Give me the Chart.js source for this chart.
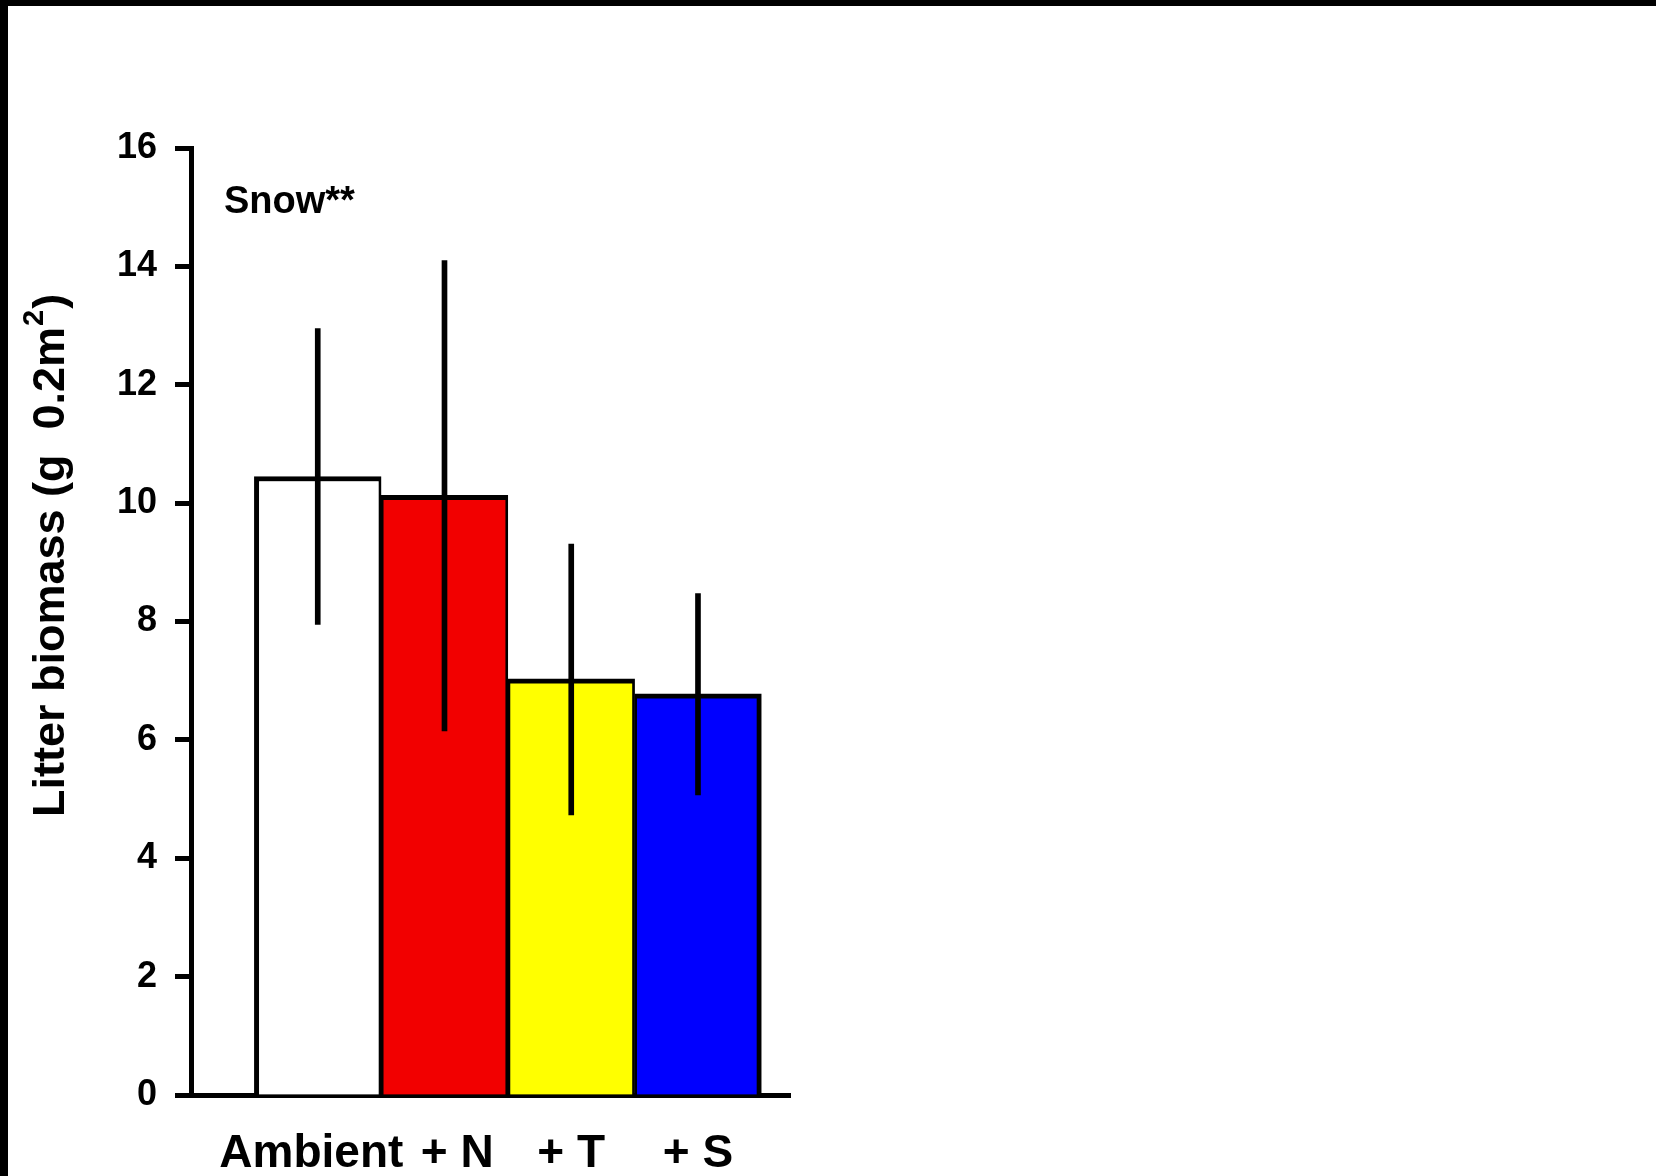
<!DOCTYPE html>
<html>
<head>
<meta charset="utf-8">
<script src="https://cdn.jsdelivr.net/npm/chart.js@4.4.1/dist/chart.umd.min.js"></script>
<style>
  html, body { margin: 0; padding: 0; background: #000; }
  #wrap { position: absolute; left: 8px; top: 6px; width: 1648px; height: 1170px; background: #fff; }
  canvas { display: block; }
</style>
</head>
<body>
<div id="wrap"><canvas id="litterChart" width="1648" height="1170"></canvas></div>
<script>
// values
const categories = ['Ambient', '+ N', '+ T', '+ S'];
const xLabels = ['Ambient ', '  + N', '+ T', '+ S'];
const litterMean = [10.45, 10.13, 7.03, 6.78];
const errLow = [7.95, 6.15, 4.73, 5.07];
const errHigh = [12.95, 14.10, 9.31, 8.47];
const barColors = ['#ffffff', '#f20000', '#ffff00', '#0000ff'];
const yTickValues = [0, 2, 4, 6, 8, 10, 12, 14, 16];
const annotation = 'Snow**';
const yTitle = ['Litter biomass (g  0.2m', '2', ')'];

const positions = categories.map((c, i) => i + 1);
const FONT = '"Liberation Sans", Arial, sans-serif';

// Draw the y-axis title (with superscript) and the annotation
const textPlugin = {
    id: 'textPlugin',
    afterDraw(chart) {
        const ctx = chart.ctx;
        ctx.save();
        ctx.fillStyle = '#000';
        ctx.textBaseline = 'alphabetic';
        ctx.textAlign = 'left';

        // annotation in the upper left
        ctx.font = 'bold 38px ' + FONT;
        ctx.fillText(annotation, 216, 207);

        // rotated y title
        ctx.translate(56, 811);
        ctx.rotate(-Math.PI / 2);
        ctx.font = 'bold 45px ' + FONT;
        ctx.fillText(yTitle[0], 0, 0);
        let w = ctx.measureText(yTitle[0]).width;
        ctx.font = 'bold 29px ' + FONT;
        ctx.fillText(yTitle[1], w + 1, -21);
        w += ctx.measureText(yTitle[1]).width + 2;
        ctx.font = 'bold 45px ' + FONT;
        ctx.fillText(yTitle[2], w, 0);
        ctx.restore();
    }
};

const ctx1 = document.getElementById('litterChart').getContext('2d');
const litterChart = new Chart(ctx1, {
    type: 'bar',
    data: {
        datasets: [
            {
                // error bars as thin floating bars
                label: 'SE',
                data: positions.map((x, i) => ({ x: x, y: [errLow[i], errHigh[i]] })),
                backgroundColor: '#000',
                borderWidth: 0,
                barThickness: 5,
                grouped: false,
                order: 0
            },
            {
                label: 'Litter biomass',
                data: positions.map((x, i) => ({ x: x, y: litterMean[i] })),
                backgroundColor: barColors,
                borderColor: '#000',
                borderWidth: ctx => ({
                    top: 5,
                    left: ctx.dataIndex === 0 ? 5 : 2.75,
                    right: ctx.dataIndex === categories.length - 1 ? 5 : 2.75,
                    bottom: 0
                }),
                barPercentage: 1,
                categoryPercentage: 1,
                grouped: false,
                order: 1
            }
        ]
    },
    options: {
        responsive: false,
        animation: false,
        layout: {
            padding: { top: 142, right: 866, bottom: 0, left: 0 }
        },
        scales: {
            x: {
                type: 'linear',
                offset: false,
                min: 0,
                max: 4.726,
                afterBuildTicks: scale => {
                    scale.ticks = positions.map(v => ({ value: v }));
                },
                afterFit: scale => { scale.height = 81; },
                grid: { display: false, drawTicks: false },
                border: { display: true, color: '#000', width: 5 },
                ticks: {
                    autoSkip: false,
                    maxRotation: 0,
                    minRotation: 0,
                    padding: 32,
                    color: '#000',
                    font: { family: FONT, size: 46, weight: 'bold' },
                    callback: (value, index) => xLabels[index]
                }
            },
            y: {
                min: 0,
                max: 16,
                afterBuildTicks: scale => {
                    scale.ticks = yTickValues.map(v => ({ value: v }));
                },
                afterFit: scale => { scale.width = 183; },
                grid: {
                    display: true,
                    drawOnChartArea: false,
                    drawTicks: true,
                    tickLength: 16,
                    tickWidth: 5,
                    tickColor: '#000'
                },
                border: { display: true, color: '#000', width: 5 },
                ticks: {
                    padding: 18,
                    color: '#000',
                    font: { family: FONT, size: 36, weight: 'bold' }
                }
            }
        },
        plugins: {
            legend: { display: false },
            tooltip: { enabled: false }
        }
    },
    plugins: [textPlugin]
});
</script>
</body>
</html>
